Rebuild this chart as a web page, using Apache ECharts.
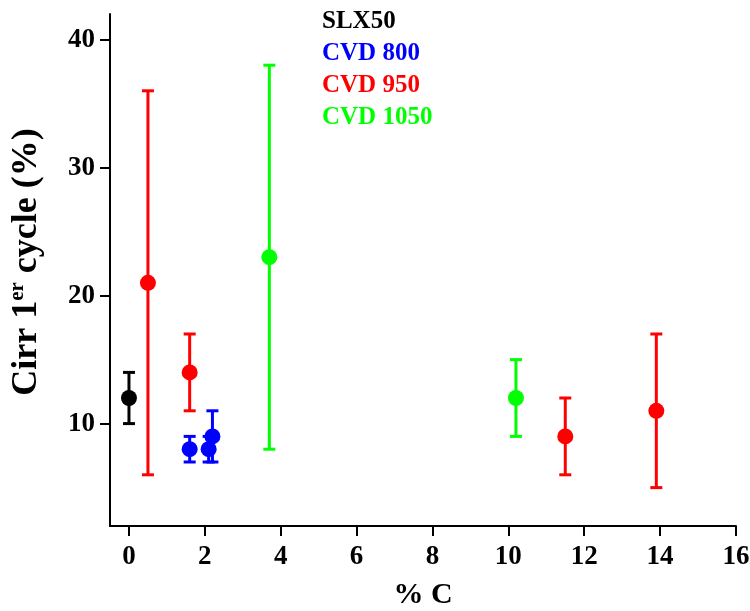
<!DOCTYPE html>
<html>
<head>
<meta charset="utf-8">
<script src="https://cdn.jsdelivr.net/npm/echarts@6/dist/echarts.min.js"></script>
<style>
html,body{margin:0;padding:0;background:#fff;}
#chart{width:750px;height:611px;}
</style>
</head>
<body>
<div id="chart"></div>
<script>
// ---- data ----
const seriesNames = ['SLX50', 'CVD 800', 'CVD 950', 'CVD 1050'];
const seriesColors = ['#000000', '#0000ff', '#ff0000', '#00ff00'];
const slx50X = [0];
const slx50Y = [12];
const slx50Lo = [10];
const slx50Hi = [14];

const cvd800X = [1.6, 2.1, 2.2];
const cvd800Y = [8, 8, 9];
const cvd800Lo = [7, 7, 7];
const cvd800Hi = [9, 9, 11];

const cvd950X = [0.5, 1.6, 11.5, 13.9];
const cvd950Y = [21, 14, 9, 11];
const cvd950Lo = [6, 11, 6, 5];
const cvd950Hi = [36, 17, 12, 17];

const cvd1050X = [3.7, 10.2];
const cvd1050Y = [23, 12];
const cvd1050Lo = [8, 9];
const cvd1050Hi = [38, 15];

const xTicks = [0, 2, 4, 6, 8, 10, 12, 14, 16];
const yTicks = [10, 20, 30, 40];

const groups = [
  [slx50X, slx50Y, slx50Lo, slx50Hi],
  [cvd800X, cvd800Y, cvd800Lo, cvd800Hi],
  [cvd950X, cvd950Y, cvd950Lo, cvd950Hi],
  [cvd1050X, cvd1050Y, cvd1050Lo, cvd1050Hi]
];

const FONT = '"Liberation Serif", "Times New Roman", serif';

const series = [];
groups.forEach(function (g, gi) {
  const color = seriesColors[gi];
  const errData = g[0].map(function (x, i) { return [x, g[2][i], g[3][i]]; });
  const ptData = g[0].map(function (x, i) { return [x, g[1][i]]; });
  series.push({
    type: 'custom',
    name: seriesNames[gi] + ' err',
    data: errData,
    z: 2,
    renderItem: function (params, api) {
      const x = api.value(0);
      const lo = api.coord([x, api.value(1)]);
      const hi = api.coord([x, api.value(2)]);
      const hw = 6;
      const st = { stroke: color, lineWidth: 3, fill: null };
      return {
        type: 'group',
        children: [
          { type: 'line', shape: { x1: lo[0], y1: lo[1], x2: hi[0], y2: hi[1] }, style: st },
          { type: 'line', shape: { x1: lo[0] - hw, y1: lo[1], x2: lo[0] + hw, y2: lo[1] }, style: st },
          { type: 'line', shape: { x1: hi[0] - hw, y1: hi[1], x2: hi[0] + hw, y2: hi[1] }, style: st }
        ]
      };
    }
  });
  series.push({
    type: 'scatter',
    name: seriesNames[gi],
    data: ptData,
    symbol: 'circle',
    symbolSize: 16,
    z: 3,
    itemStyle: { color: color, opacity: 1 }
  });
});

const legendGraphics = seriesNames.map(function (n, i) {
  return {
    type: 'text',
    left: 322,
    top: 9 + i * 32,
    style: {
      text: n,
      fill: seriesColors[i],
      font: 'bold 25px ' + FONT
    }
  };
});

const chart = echarts.init(document.getElementById('chart'), null, { renderer: 'canvas' });
chart.setOption({
  animation: false,
  backgroundColor: '#ffffff',
  grid: { left: 110, right: 14, top: 14, bottom: 85, containLabel: false, outerBoundsMode: 'none' },
  xAxis: {
    type: 'value',
    min: -0.5,
    max: 16,
    name: '% C',
    nameLocation: 'middle',
    nameGap: 54,
    nameTextStyle: { fontFamily: FONT, fontWeight: 'bold', fontSize: 30, color: '#000', verticalAlign: 'top' },
    axisLine: { show: true, onZero: false, lineStyle: { color: '#000', width: 2 } },
    axisTick: { show: true, length: 10, inside: false, customValues: xTicks, lineStyle: { color: '#000', width: 2 } },
    axisLabel: { customValues: xTicks, margin: 18, fontFamily: FONT, fontWeight: 'bold', fontSize: 27, color: '#000', verticalAlign: 'top' },
    splitLine: { show: false }
  },
  yAxis: {
    type: 'value',
    min: 2,
    max: 42,
    name: '{a|Cirr 1}{b|er}{a| cycle (%)}',
    nameLocation: 'middle',
    nameGap: 63,
    nameRotate: 90,
    nameTextStyle: {
      color: '#000',
      padding: [0, 0, 0, 16],
      rich: {
        a: { fontFamily: FONT, fontWeight: 'bold', fontSize: 36, color: '#000', lineHeight: 40 },
        b: { fontFamily: FONT, fontWeight: 'bold', fontSize: 21, color: '#000', verticalAlign: 'top', lineHeight: 40 }
      }
    },
    axisLine: { show: true, onZero: false, lineStyle: { color: '#000', width: 2 } },
    axisTick: { show: true, length: 10, inside: false, customValues: yTicks, lineStyle: { color: '#000', width: 2 } },
    axisLabel: { customValues: yTicks, margin: 15, fontFamily: FONT, fontWeight: 'bold', fontSize: 27, color: '#000' },
    splitLine: { show: false }
  },
  graphic: legendGraphics,
  series: series
});
</script>
</body>
</html>
